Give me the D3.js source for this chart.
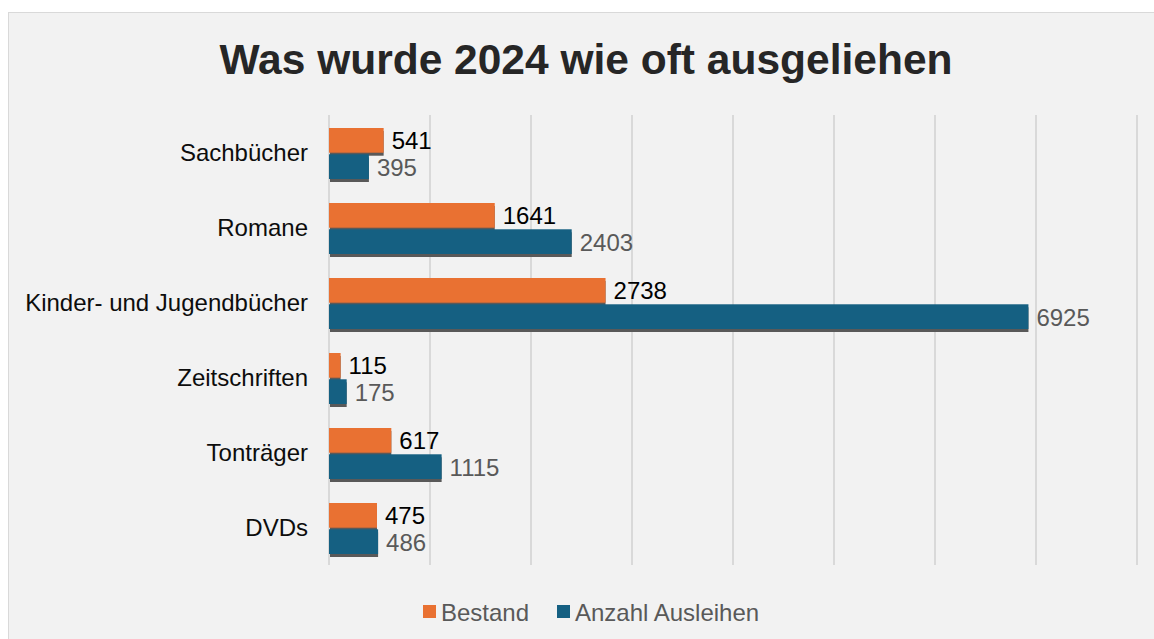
<!DOCTYPE html>
<html>
<head>
<meta charset="utf-8">
<script src="https://cdn.jsdelivr.net/npm/d3@7"></script>
<style>
  body { margin: 0; background: white; }
  text { font-family: "Liberation Sans", Arial, sans-serif; }
</style>
</head>
<body>
<div id="container"></div>
<script>
const categories = ["Sachbücher", "Romane", "Kinder- und Jugendbücher", "Zeitschriften", "Tonträger", "DVDs"]
const bestand = [541, 1641, 2738, 115, 617, 475]
const ausleihen = [395, 2403, 6925, 175, 1115, 486]
const seriesNames = ["Bestand", "Anzahl Ausleihen"]
const xTicks = [0, 1000, 2000, 3000, 4000, 5000, 6000, 7000, 8000]

const w = 1154
const h = 639
const colors = ["#E97132", "#156082"]
const labelColors = ["#000000", "#595959"]

const svg = d3.select("#container")
    .append("svg")
    .attr("width", w)
    .attr("height", h)

// chart area frame
svg.append("rect")
    .attr("x", 8.5)
    .attr("y", 12.5)
    .attr("width", 1160)
    .attr("height", 640)
    .attr("fill", "#f2f2f2")
    .attr("stroke", "#d9d9d9")

svg.append("text")
    .attr("x", 586)
    .attr("y", 74)
    .attr("text-anchor", "middle")
    .style("font-size", "42.5px")
    .style("font-weight", "bold")
    .style("fill", "#262626")
    .text("Was wurde 2024 wie oft ausgeliehen")

const xScale = d3.scaleLinear()
    .domain([0, 8000])
    .range([329, 1137])
const yScale = d3.scaleBand()
    .domain(categories)
    .range([115, 565])
const inner = d3.scaleBand()
    .domain(seriesNames)
    .range([13, 75 - 11])
    .paddingInner(0.06)

// gridlines
svg.append("g")
    .selectAll("line")
    .data(xTicks)
    .enter()
    .append("line")
    .attr("x1", (d) => xScale(d))
    .attr("x2", (d) => xScale(d))
    .attr("y1", 115)
    .attr("y2", 565)
    .attr("stroke", "#d9d9d9")
    .attr("stroke-width", 2)

// category labels
svg.append("g")
    .selectAll("text")
    .data(categories)
    .enter()
    .append("text")
    .attr("x", 308)
    .attr("y", (d) => yScale(d) + yScale.bandwidth() / 2 + 8)
    .attr("text-anchor", "end")
    .style("font-size", "24px")
    .style("fill", "#0d0d0d")
    .text((d) => d)

const rows = []
categories.forEach((c, i) => {
    rows.push({ cat: c, s: 0, v: bestand[i] })
    rows.push({ cat: c, s: 1, v: ausleihen[i] })
})

const bars = svg.append("g")
// shadows
bars.selectAll("rect.shadow")
    .data(rows)
    .enter()
    .append("rect")
    .classed("shadow", true)
    .attr("x", xScale(0) + 1)
    .attr("y", (d) => yScale(d.cat) + inner(seriesNames[d.s]) + 3)
    .attr("width", (d) => xScale(d.v) - xScale(0) - 1)
    .attr("height", inner.bandwidth())
    .attr("fill", "#595959")
bars.selectAll("rect.bar")
    .data(rows)
    .enter()
    .append("rect")
    .classed("bar", true)
    .attr("x", xScale(0))
    .attr("y", (d) => yScale(d.cat) + inner(seriesNames[d.s]))
    .attr("width", (d) => xScale(d.v) - xScale(0))
    .attr("height", inner.bandwidth())
    .attr("fill", (d) => colors[d.s])

bars.selectAll("text")
    .data(rows)
    .enter()
    .append("text")
    .attr("x", (d) => xScale(d.v) + 8)
    .attr("y", (d) => yScale(d.cat) + inner(seriesNames[d.s]) + inner.bandwidth() / 2 + 9)
    .style("font-size", "24px")
    .style("fill", (d) => labelColors[d.s])
    .text((d) => d.v)

// legend
const legendX = [423, 557]
const legend = svg.append("g")
    .selectAll("g")
    .data(seriesNames)
    .enter()
    .append("g")
    .attr("transform", (d, i) => `translate(${legendX[i]}, 605)`)
legend.append("rect")
    .attr("width", 13)
    .attr("height", 13)
    .attr("fill", (d, i) => colors[i])
legend.append("text")
    .attr("x", 18)
    .attr("y", 16)
    .style("font-size", "24px")
    .style("fill", "#595959")
    .text((d) => d)
</script>
</body>
</html>
